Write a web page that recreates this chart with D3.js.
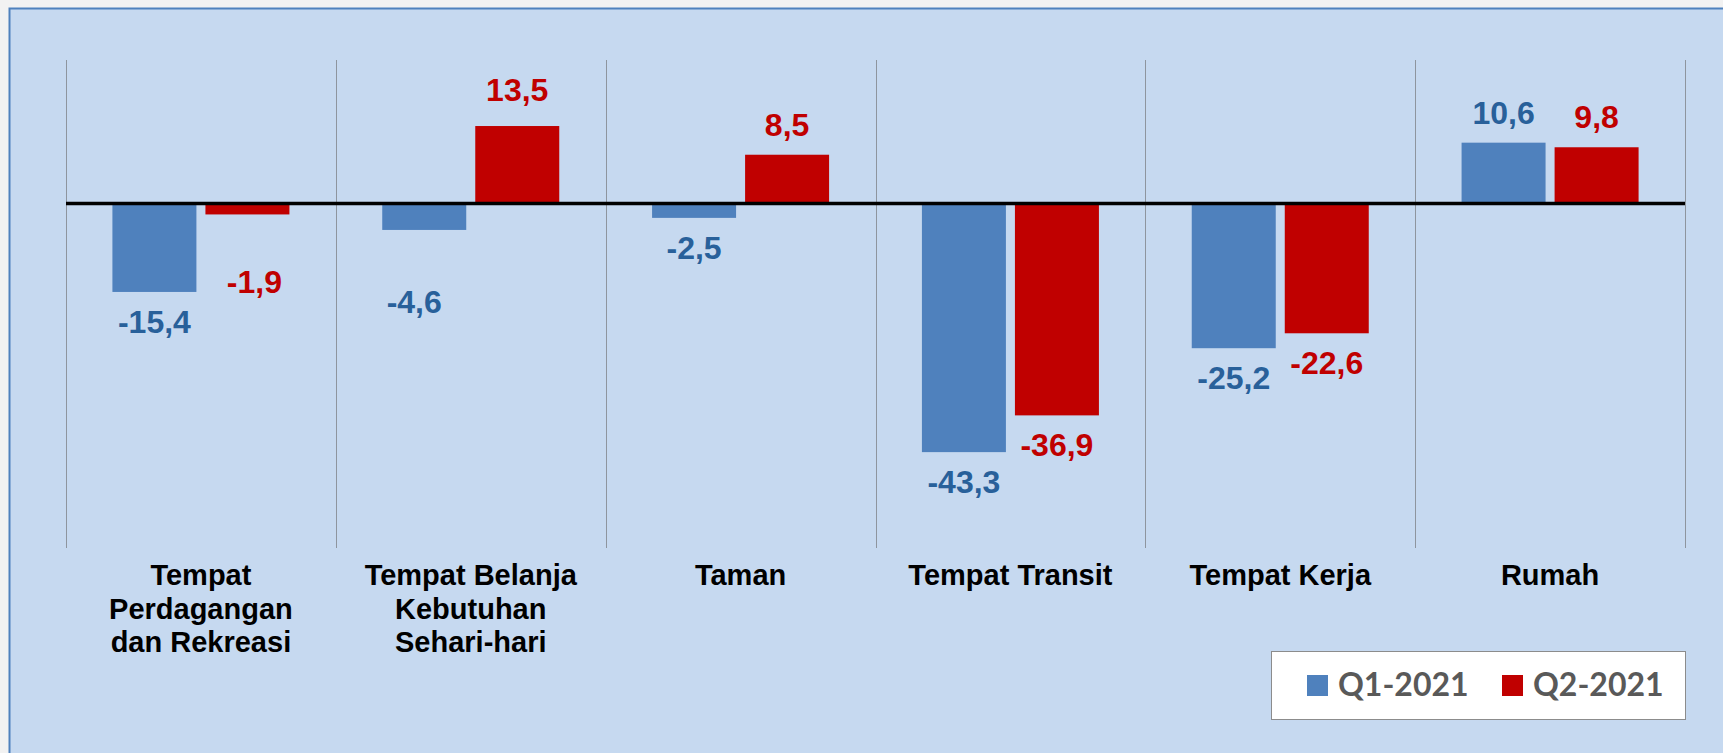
<!DOCTYPE html>
<html>
<head>
<meta charset="utf-8">
<script src="https://cdn.jsdelivr.net/npm/d3@7"></script>
<style>
  html, body { margin: 0; padding: 0; background: #f2f2f2; }
  svg { display: block; }
</style>
</head>
<body>
<div id="chart"></div>
<script>
// data
const categories = [
    "Tempat\nPerdagangan\ndan Rekreasi",
    "Tempat Belanja\nKebutuhan\nSehari-hari",
    "Taman",
    "Tempat Transit",
    "Tempat Kerja",
    "Rumah"
];
const seriesNames = ["Q1-2021", "Q2-2021"];
const q1Values = [-15.4, -4.6, -2.5, -43.3, -25.2, 10.6];
const q2Values = [-1.9, 13.5, 8.5, -36.9, -22.6, 9.8];

const barColors = ["#4f81bd", "#c00000"];
const labelColors = ["#28609a", "#c00000"];

const width = 1723, height = 753;

const svg = d3.select("#chart").append("svg")
    .attr("width", width)
    .attr("height", height);

// chart frame
svg.append("rect")
    .attr("x", 9.5).attr("y", 8.5)
    .attr("width", width + 20).attr("height", height + 20)
    .attr("fill", "#c6d9f0")
    .attr("stroke", "#4f81bd")
    .attr("stroke-width", 2);

// scales
const x0 = d3.scaleBand()
    .domain(categories)
    .range([66, 1685])
    .padding(0);

const groupW = x0.bandwidth() * 0.656;
const x1 = d3.scaleBand()
    .domain(seriesNames)
    .range([0, groupW])
    .paddingInner(0.097);

const y = d3.scaleLinear()
    .domain([-60, 25])
    .range([548, 60]);

// vertical separators between categories
const bounds = categories.map(c => x0(c)).concat([x0.range()[1]]);
svg.append("g")
    .selectAll("line")
    .data(bounds)
    .join("line")
        .attr("x1", d => Math.round(d) + 0.5)
        .attr("x2", d => Math.round(d) + 0.5)
        .attr("y1", y.range()[1])
        .attr("y2", y.range()[0])
        .attr("stroke", "#8e959e")
        .attr("stroke-width", 1);

// bars
const rows = categories.map((c, i) => ({
    cat: c,
    vals: [q1Values[i], q2Values[i]]
}));

const groups = svg.append("g")
    .selectAll("g")
    .data(rows)
    .join("g")
        .attr("transform", d => `translate(${x0(d.cat) + (x0.bandwidth() - groupW) / 2},0)`);

groups.selectAll("rect")
    .data(d => d.vals.map((v, k) => ({ cat: d.cat, s: seriesNames[k], k: k, v: v })))
    .join("rect")
        .attr("x", d => x1(d.s))
        .attr("y", d => y(Math.max(0, d.v)))
        .attr("width", x1.bandwidth())
        .attr("height", d => Math.abs(y(d.v) - y(0)))
        .attr("fill", d => barColors[d.k]);

// zero line
svg.append("line")
    .attr("x1", x0.range()[0])
    .attr("x2", x0.range()[1])
    .attr("y1", y(0))
    .attr("y2", y(0))
    .attr("stroke", "#000")
    .attr("stroke-width", 3.5);

// value labels (a couple were moved by hand in the original)
const fmt = d3.formatLocale({ decimal: ",", thousands: ".", grouping: [3], currency: ["", ""], minus: "-" }).format(".1f");
const nudge = { "0|1": [7, 38], "1|0": [-10, 42], "1|1": [0, -6] };

groups.selectAll("text")
    .data(d => d.vals.map((v, k) => ({ cat: d.cat, s: seriesNames[k], k: k, v: v, ci: categories.indexOf(d.cat) })))
    .join("text")
        .attr("x", d => x1(d.s) + x1.bandwidth() / 2 + (nudge[d.ci + "|" + d.k] || [0, 0])[0])
        .attr("y", d => (d.v < 0 ? y(d.v) + 41 : y(d.v) - 19) + (nudge[d.ci + "|" + d.k] || [0, 0])[1])
        .attr("text-anchor", "middle")
        .attr("font-family", "'Liberation Sans', Arial, sans-serif")
        .attr("font-weight", "bold")
        .attr("font-size", "32px")
        .attr("fill", d => labelColors[d.k])
        .text(d => fmt(d.v));

// category labels
const catLabels = svg.append("g")
    .selectAll("text")
    .data(categories)
    .join("text")
        .attr("x", d => x0(d) + x0.bandwidth() / 2)
        .attr("y", 585)
        .attr("text-anchor", "middle")
        .attr("font-family", "'Liberation Sans', Arial, sans-serif")
        .attr("font-weight", "bold")
        .attr("font-size", "29px")
        .attr("fill", "#000");

catLabels.selectAll("tspan")
    .data(d => d.split("\n").map(t => ({ t: t, x: x0(d) + x0.bandwidth() / 2 })))
    .join("tspan")
        .attr("x", d => d.x)
        .attr("dy", (d, i) => i === 0 ? 0 : 33.5)
        .text(d => d.t);

// legend
const legend = svg.append("g");
legend.append("rect")
    .attr("x", 1271.5).attr("y", 651.5)
    .attr("width", 414).attr("height", 68)
    .attr("fill", "#fff")
    .attr("stroke", "#8c8c8c")
    .attr("stroke-width", 1);

const legendX = [1307, 1502];
const item = legend.selectAll("g")
    .data(seriesNames)
    .join("g")
        .attr("transform", (d, i) => `translate(${legendX[i]},0)`);

item.append("rect")
    .attr("x", 0).attr("y", 675)
    .attr("width", 21).attr("height", 21)
    .attr("fill", (d, i) => barColors[i]);

item.append("text")
    .attr("x", 31).attr("y", 696)
    .attr("font-family", "Lato, 'Open Sans', sans-serif")
    .attr("font-weight", "bold")
    .attr("font-size", "32px")
    .attr("fill", "#595959")
    .text(d => d);
</script>
</body>
</html>
